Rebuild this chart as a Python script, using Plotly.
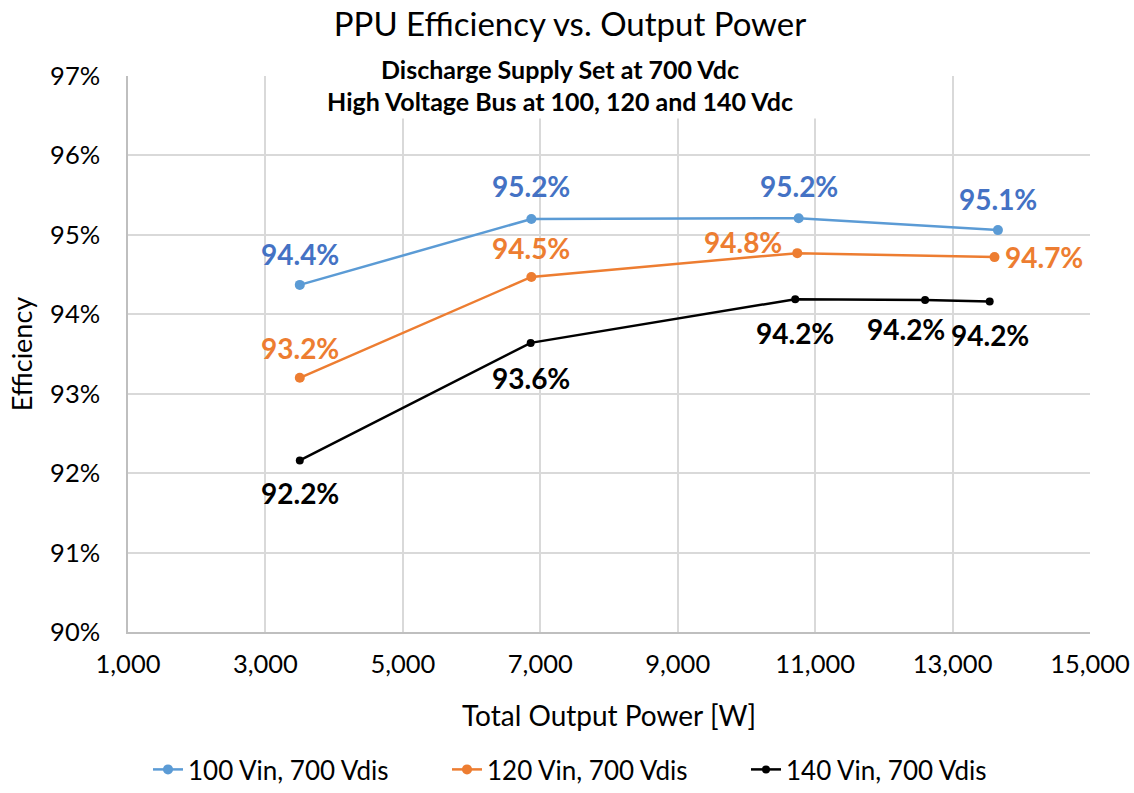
import plotly.graph_objects as go

# ---- data ----
series_names = ["100 Vin, 700 Vdis", "120 Vin, 700 Vdis", "140 Vin, 700 Vdis"]
power_100 = [3500, 6870, 10760, 13660]
eff_100 = [94.37, 95.20, 95.21, 95.06]
power_120 = [3500, 6870, 10740, 13610]
eff_120 = [93.20, 94.47, 94.77, 94.72]
power_140 = [3500, 6860, 10710, 12600, 13540]
eff_140 = [92.16, 93.64, 94.19, 94.18, 94.16]
x_ticks = [1000, 3000, 5000, 7000, 9000, 11000, 13000, 15000]
y_ticks = [90, 91, 92, 93, 94, 95, 96, 97]

# ---- styles ----
FONT = "Lato"
line_colors = ["#5B9BD5", "#ED7D31", "#000000"]
label_colors = ["#4472C4", "#ED7D31", "#000000"]
marker_sizes = [10, 10, 8]
# label offsets (px) per point
shifts_100 = [(0, 31), (0, 33), (0, 32), (0, 31)]
shifts_120 = [(0, 30), (0, 29), (-54, 11), (50, 0)]
shifts_140 = [(0, -33), (0, -35), (0, -34), (-19, -29), (0, -33)]

fig = go.Figure()
all_series = [(power_100, eff_100, shifts_100), (power_120, eff_120, shifts_120), (power_140, eff_140, shifts_140)]
annotations = []
for i, (xs, ys, sh) in enumerate(all_series):
    fig.add_trace(go.Scatter(
        x=xs, y=ys, mode="lines+markers", name=series_names[i],
        line=dict(color=line_colors[i], width=2.5),
        marker=dict(color=line_colors[i], size=marker_sizes[i]),
    ))
    for x, y, (dx, dy) in zip(xs, ys, sh):
        annotations.append(dict(
            x=x, y=y, xref="x", yref="y", text=f"{y:.1f}%", showarrow=False,
            xshift=dx, yshift=dy, xanchor="center", yanchor="middle",
            font=dict(family=FONT, size=28, color=label_colors[i], weight="bold"),
        ))

annotations.append(dict(
    x=(560 - 128) / 962, y=(632.5 - 85) / 556, xref="paper", yref="paper",
    text="Discharge Supply Set at 700 Vdc<br>High Voltage Bus at 100, 120 and 140 Vdc",
    showarrow=False, xanchor="center", yanchor="middle",
    font=dict(family=FONT, size=25, color="#000000", weight="bold"),
    bgcolor="#FFFFFF", width=528, height=66, borderpad=0,
))

fig.update_layout(
    width=1134, height=793,
    paper_bgcolor="#FFFFFF", plot_bgcolor="#FFFFFF",
    margin=dict(l=128, r=44, t=76, b=161, autoexpand=False),
    font=dict(family=FONT, color="#000000"),
    title=dict(text="PPU Efficiency vs. Output Power", x=570 / 1134, xanchor="center",
               y=1 - 24 / 793, yanchor="middle", xref="container", yref="container",
               font=dict(family=FONT, size=33, color="#000000")),
    showlegend=True,
    legend=dict(orientation="h", xref="container", yref="container",
                x=148 / 1134, xanchor="left", y=0, yanchor="bottom",
                font=dict(family=FONT, size=26, color="#000000"),
                entrywidth=254, entrywidthmode="pixels", itemclick=False),
    annotations=annotations,
)
fig.update_xaxes(
    range=[1000, 15000], tickvals=x_ticks, ticktext=[f"{v:,}" for v in x_ticks],
    showgrid=True, gridcolor="#D9D9D9", gridwidth=1.5,
    showline=True, linecolor="#BFBFBF", linewidth=1.5, automargin=False,
    zeroline=False, ticks="", ticklabelstandoff=9,
    tickfont=dict(family=FONT, size=25.5, color="#000000"),
    title=dict(text="Total Output Power [W]", standoff=29,
               font=dict(family=FONT, size=28, color="#000000")),
)
fig.update_yaxes(
    range=[90, 97], tickvals=y_ticks, ticktext=[f"{v}%" for v in y_ticks],
    showgrid=True, gridcolor="#D9D9D9", gridwidth=1.5,
    showline=True, linecolor="#BFBFBF", linewidth=1.5, automargin=False,
    zeroline=False, ticks="", ticklabelstandoff=21,
    tickfont=dict(family=FONT, size=25.5, color="#000000"),
    title=dict(text="Efficiency", standoff=10,
               font=dict(family=FONT, size=27, color="#000000")),
)

fig.write_html("out.html", config={"displayModeBar": False},
               post_script="document.body.style.margin='0';document.body.style.padding='0';document.documentElement.style.overflow='hidden';")
